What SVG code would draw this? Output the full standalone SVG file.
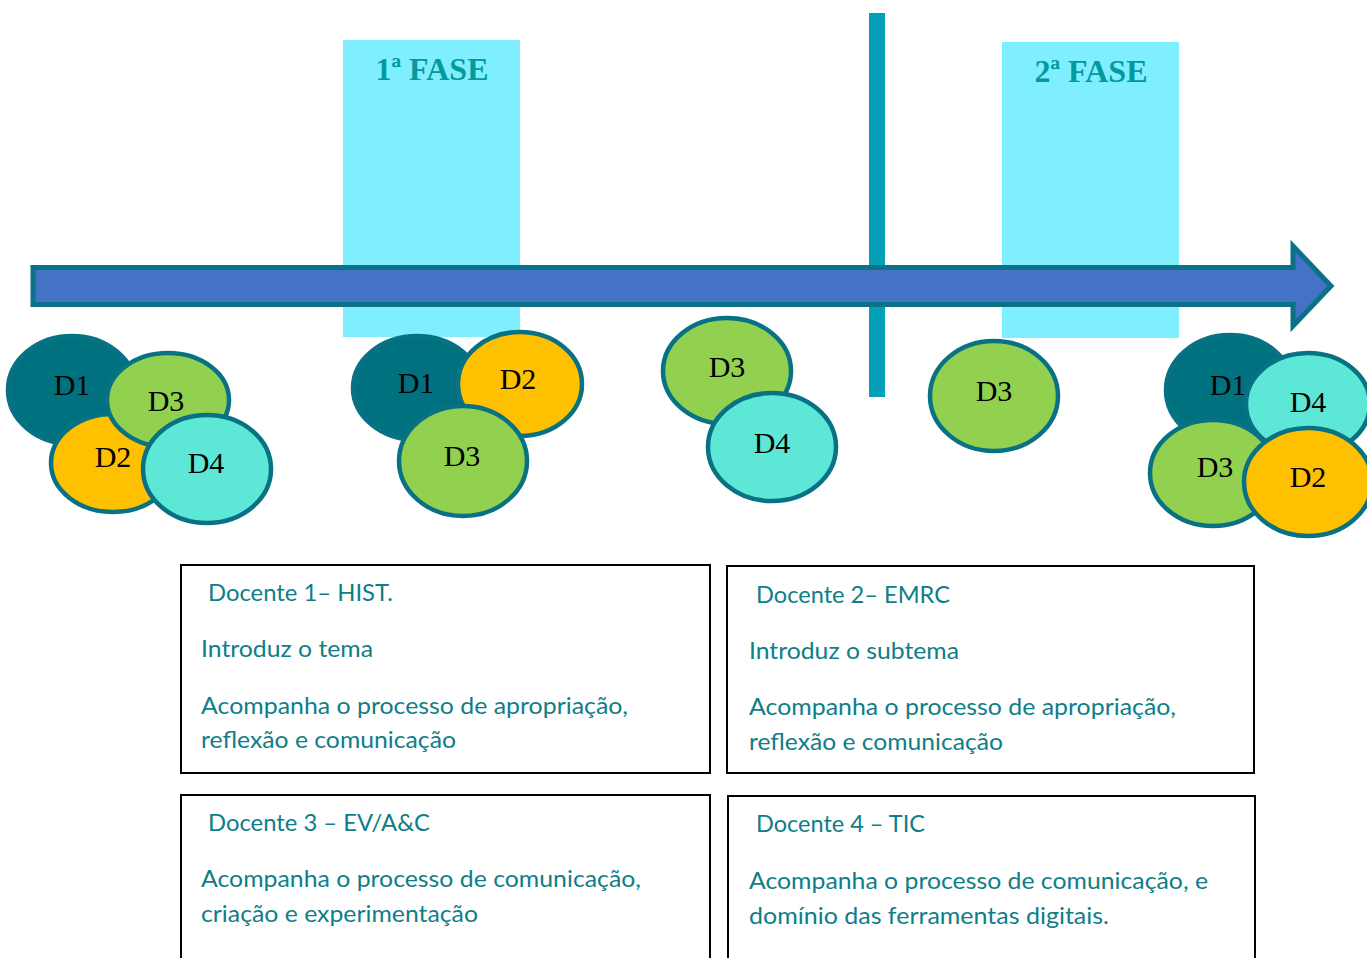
<svg xmlns="http://www.w3.org/2000/svg" width="1367" height="958" viewBox="0 0 1367 958">
<style>
.phase{fill:#7FEEFF}
.ptitle{font-family:"Liberation Serif",serif;font-weight:bold;font-size:32px;fill:#049A9C;text-anchor:middle}
.e{stroke:#087284;stroke-width:4.5}
.d1{fill:#00727F}
.d2{fill:#FFC000}
.d3{fill:#92D050}
.d4{fill:#5DE7D6}
.lbl{font-family:"Liberation Serif",serif;font-size:30px;fill:#000;text-anchor:middle}
.box{fill:#fff;stroke:#000;stroke-width:2}
.t{font-family:Lato,"Open Sans",sans-serif;font-size:23px;fill:#0E7E88}
</style>
<rect width="1367" height="958" fill="#fff"/>
<g id="fase1">
<rect class="phase" x="343" y="40" width="177" height="297"/>
<text class="ptitle" x="432" y="80">1ª FASE</text>
</g>
<g id="fase2">
<rect class="phase" x="1002" y="42" width="177" height="296"/>
<text class="ptitle" x="1091" y="82">2ª FASE</text>
</g>
<g id="divider">
<rect x="869" y="13" width="16" height="384" fill="#04A0B8"/>
</g>
<g id="connectors">
<path d="M33,267.5 L1293,267.5 L1293,246 L1331,286 L1293,326 L1293,304.5 L33,304.5 Z" fill="#4472C4" stroke="#0B7186" stroke-width="5"/>
</g>
<g id="group1">
<g id="g1-d1"><ellipse class="e d1" cx="72" cy="390" rx="64" ry="54"/><text class="lbl" x="72" y="395">D1</text></g>
<g id="g1-d2"><ellipse class="e d2" cx="113" cy="463" rx="62" ry="49"/><text class="lbl" x="113" y="467">D2</text></g>
<g id="g1-d3"><ellipse class="e d3" cx="168" cy="400" rx="61" ry="47"/><text class="lbl" x="166" y="411">D3</text></g>
<g id="g1-d4"><ellipse class="e d4" cx="207" cy="469" rx="64" ry="54"/><text class="lbl" x="206" y="473">D4</text></g>
</g>
<g id="group2">
<g id="g2-d1"><ellipse class="e d1" cx="417" cy="388" rx="64" ry="52"/><text class="lbl" x="416" y="393">D1</text></g>
<g id="g2-d2"><ellipse class="e d2" cx="520" cy="384" rx="62" ry="52"/><text class="lbl" x="518" y="389">D2</text></g>
<g id="g2-d3"><ellipse class="e d3" cx="463" cy="461" rx="64" ry="55"/><text class="lbl" x="462" y="466">D3</text></g>
</g>
<g id="group3">
<g id="g3-d3"><ellipse class="e d3" cx="727" cy="371" rx="64" ry="53"/><text class="lbl" x="727" y="377">D3</text></g>
<g id="g3-d4"><ellipse class="e d4" cx="772" cy="447" rx="64" ry="54"/><text class="lbl" x="772" y="453">D4</text></g>
</g>
<g id="group4">
<g id="g4-d3"><ellipse class="e d3" cx="994" cy="396" rx="64" ry="55"/><text class="lbl" x="994" y="401">D3</text></g>
</g>
<g id="group5">
<g id="g5-d1"><ellipse class="e d1" cx="1230" cy="390" rx="64" ry="55"/><text class="lbl" x="1228" y="395">D1</text></g>
<g id="g5-d4"><ellipse class="e d4" cx="1308" cy="404" rx="62" ry="51"/><text class="lbl" x="1308" y="412">D4</text></g>
<g id="g5-d3"><ellipse class="e d3" cx="1213" cy="473" rx="63" ry="53"/><text class="lbl" x="1215" y="477">D3</text></g>
<g id="g5-d2"><ellipse class="e d2" cx="1308" cy="482" rx="64" ry="54"/><text class="lbl" x="1308" y="487">D2</text></g>
</g>
<g id="docente1">
<rect class="box" x="181" y="565" width="529" height="208"/>
<text class="t" x="208" y="601" textLength="185" lengthAdjust="spacingAndGlyphs">Docente 1– HIST.</text>
<text class="t" x="201" y="657" textLength="172" lengthAdjust="spacingAndGlyphs">Introduz o tema</text>
<text class="t" x="201" y="714" textLength="427" lengthAdjust="spacingAndGlyphs">Acompanha o processo de apropriação,</text>
<text class="t" x="201" y="748" textLength="255" lengthAdjust="spacingAndGlyphs">reflexão e comunicação</text>
</g>
<g id="docente2">
<rect class="box" x="727" y="566" width="527" height="207"/>
<text class="t" x="756" y="603" textLength="194" lengthAdjust="spacingAndGlyphs">Docente 2– EMRC</text>
<text class="t" x="749" y="659" textLength="210" lengthAdjust="spacingAndGlyphs">Introduz o subtema</text>
<text class="t" x="749" y="715" textLength="427" lengthAdjust="spacingAndGlyphs">Acompanha o processo de apropriação,</text>
<text class="t" x="749" y="750" textLength="254" lengthAdjust="spacingAndGlyphs">reflexão e comunicação</text>
</g>
<g id="docente3">
<rect class="box" x="181" y="795" width="529" height="180"/>
<text class="t" x="208" y="831" textLength="222" lengthAdjust="spacingAndGlyphs">Docente 3 – EV/A&amp;C</text>
<text class="t" x="201" y="887" textLength="440" lengthAdjust="spacingAndGlyphs">Acompanha o processo de comunicação,</text>
<text class="t" x="201" y="922" textLength="277" lengthAdjust="spacingAndGlyphs">criação e experimentação</text>
</g>
<g id="docente4">
<rect class="box" x="728" y="796" width="527" height="180"/>
<text class="t" x="756" y="832" textLength="169" lengthAdjust="spacingAndGlyphs">Docente 4 – TIC</text>
<text class="t" x="749" y="889" textLength="459" lengthAdjust="spacingAndGlyphs">Acompanha o processo de comunicação, e</text>
<text class="t" x="749" y="924" textLength="360" lengthAdjust="spacingAndGlyphs">domínio das ferramentas digitais.</text>
</g>
</svg>
